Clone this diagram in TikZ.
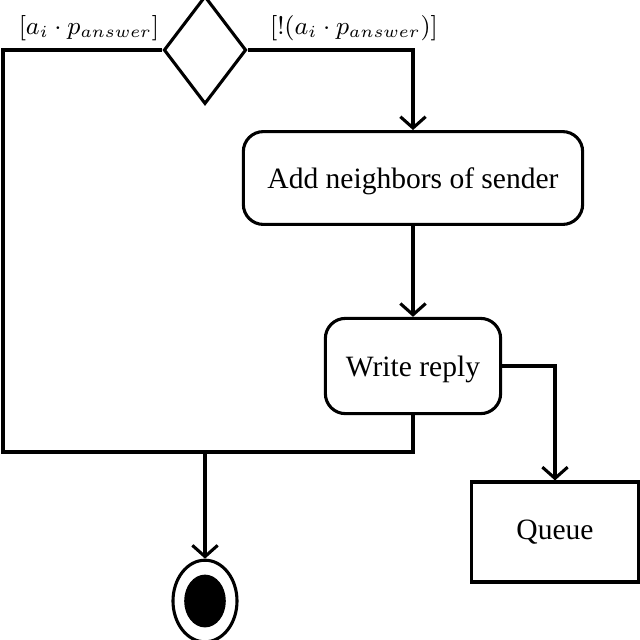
\documentclass[tikz,border=0pt]{standalone}
\usepackage{fontspec}
\setmainfont{Liberation Serif}
\usepackage{amsmath}
\usetikzlibrary{arrows.meta}
\usetikzlibrary{shapes.geometric}
\usetikzlibrary{positioning}

\tikzset{
  act/.style={draw=black, rounded corners=0.25cm, align=center},
  store/.style={draw=black, align=center},
  guard/.style={font=\fontsize{8.8}{11}\selectfont},
  flow/.style={-{Straight Barb[length=4pt,width=9pt]}},
}

\begin{document}
\begin{tikzpicture}[x=0.0125cm, y=-0.0125cm, line width=1.1pt, font=\fontsize{10.5}{12}\selectfont]
    \useasboundingbox (0,0) rectangle (640,640);
    \node[draw=black, diamond, inner sep=0pt, minimum width=1.03cm, minimum height=1.35cm] (decide) at (205,50) {};
    \node[act, minimum width=4.24cm, minimum height=1.16cm, text depth=0pt] (addnb) at (413,178) {Add neighbors of sender};
    \node[act, minimum width=2.19cm, minimum height=1.19cm, text depth=0pt] (reply) at (413,366) {Write reply};
    \node[store, minimum width=2.09cm, minimum height=1.25cm] (queue) at (555,532) {Queue};
    \node[draw=black, ellipse, inner sep=0pt, minimum width=0.8cm, minimum height=1.02cm] (final) at (205,601) {};
    \node[fill=black, ellipse, inner sep=0pt, minimum width=0.52cm, minimum height=0.66cm] (finaldot) at (final) {};
    \node[guard] (yes) at (89,28) {$[a_i \cdot p_{answer}]$};
    \node[guard] (no) at (354,28) {$[!(a_i \cdot p_{answer})]$};
    \coordinate (L1) at (3,50);
    \coordinate (L2) at (3,452);
    \coordinate (M) at (205,452);
    \path [flow] (decide.east) edge[to path={-| (\tikztotarget)}] (addnb.north);
    \path [flow] (addnb) edge (reply);
    \path [flow] (reply.east) edge[to path={-| (\tikztotarget)}] (queue.north);
    \draw (decide.west) -- (L1) -- (L2) -| (reply.south);
    \path [flow] (M) edge (final);
  \end{tikzpicture}
\end{document}
